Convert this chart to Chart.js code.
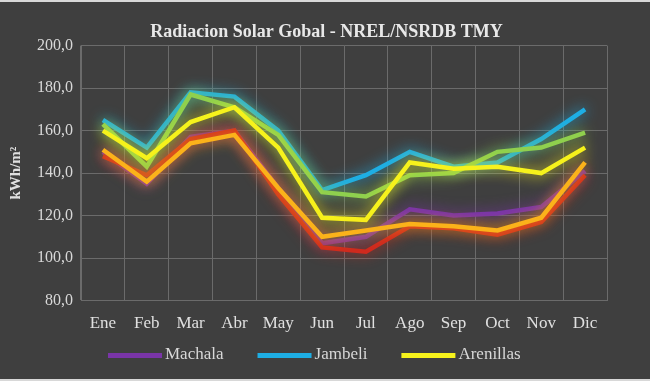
<!DOCTYPE html>
<html>
<head>
<meta charset="utf-8">
<script src="https://cdn.jsdelivr.net/npm/chart.js@4/dist/chart.umd.min.js"></script>
<style>
  html, body { margin: 0; padding: 0; background: #3f3f3f; }
  #wrap { position: relative; width: 650px; height: 381px; box-sizing: border-box;
          border-top: 2px solid #d8d8d8; border-bottom: 2px solid #d8d8d8; }
</style>
</head>
<body>
<div id="wrap"><canvas id="solarChart" width="650" height="377"></canvas></div>
<script>
const months = ['Ene', 'Feb', 'Mar', 'Abr', 'May', 'Jun', 'Jul', 'Ago', 'Sep', 'Oct', 'Nov', 'Dic'];

const machala   = [150, 135, 157, 160, 133, 107, 110, 123, 120, 121, 124, 141];
const jambeli   = [165, 152, 178, 176, 160, 132, 139, 150, 143, 145, 156, 170];
const arenillas = [160, 147, 164, 171, 152, 119, 118, 145, 142, 143, 140, 152];
const green     = [163, 143, 177, 171, 158, 131, 129, 139, 140, 150, 152, 159];
const orange    = [151, 136, 154, 158, 133, 110, 113, 116, 115, 113, 119, 145];
const red       = [148, 139, 156, 160, 130, 105, 103, 115, 114, 111, 117, 139];

const yTicks = [80, 100, 120, 140, 160, 180, 200];

const serif = "'Liberation Serif', 'Times New Roman', serif";

// soft glow round each line, like the original picture
const glow = {
    id: 'glow',
    beforeDatasetDraw(chart, args) {
        const ctx = chart.ctx;
        ctx.save();
        ctx.shadowColor = args.meta.dataset.options.borderColor;
        ctx.shadowBlur = 14;
    },
    afterDatasetDraw(chart) {
        chart.ctx.restore();
    }
};

// legend row: only the named series, wide gaps like the original
const wideLegend = {
    id: 'wideLegend',
    afterDraw(chart) {
        const ctx = chart.ctx;
        const y = chart.height - 24;
        let x = chart.chartArea.left + 27;
        ctx.save();
        ctx.font = '17px ' + serif;
        ctx.textBaseline = 'middle';
        chart.data.datasets.forEach(ds => {
            if (!ds.label) return;
            ctx.fillStyle = ds.borderColor;
            ctx.fillRect(x, y - 2, 54, 5);
            ctx.fillStyle = '#d8d8d8';
            ctx.fillText(ds.label, x + 57, y);
            x += 57 + ctx.measureText(ds.label).width + 34;
        });
        ctx.restore();
    }
};

const ctx = document.getElementById('solarChart');

function line(label, data, color, order) {
    return {
        label: label,
        data: data,
        borderColor: color,
        backgroundColor: color,
        borderWidth: 4.5,
        pointRadius: 0,
        tension: 0,
        order: order
    };
}

new Chart(ctx, {
    type: 'line',
    data: {
        labels: months,
        datasets: [
            line('Machala', machala, '#7a35a8', 5),
            line('Jambeli', jambeli, '#1eaee4', 4),
            line('Arenillas', arenillas, '#f6f21c', 1),
            line('', green, '#8fd04e', 2),
            line('', orange, '#fbb21a', 0),
            line('', red, '#cf2a1e', 3)
        ]
    },
    plugins: [glow, wideLegend],
    options: {
        responsive: false,
        animation: false,
        layout: { padding: { left: 3, right: 0, top: 0, bottom: 32 } },
        plugins: {
            title: {
                display: true,
                text: 'Radiacion Solar Gobal - NREL/NSRDB TMY',
                color: '#e8e8e8',
                font: { family: serif, size: 18, weight: 'bold' },
                padding: { top: 20, bottom: 2 }
            },
            legend: { display: false },
            tooltip: { enabled: false }
        },
        scales: {
            x: {
                offset: true,
                grid: { color: '#6b6b6b', offset: true, drawTicks: false },
                border: { color: '#6b6b6b' },
                ticks: { color: '#e0e0e0', font: { family: serif, size: 17 }, padding: 13 }
            },
            y: {
                min: 80,
                max: 200,
                afterBuildTicks: axis => { axis.ticks = yTicks.map(v => ({ value: v })); },
                grid: { color: '#6b6b6b', drawTicks: false },
                border: { color: '#6b6b6b' },
                ticks: {
                    color: '#d8d8d8',
                    font: { family: serif, size: 16 },
                    padding: 8,
                    callback: v => v.toFixed(1).replace('.', ',')
                },
                title: {
                    display: true,
                    text: 'kWh/m²',
                    color: '#e0e0e0',
                    font: { family: serif, size: 15, weight: 'bold' }
                }
            },
            // empty strip on the right, keeps the title centred on the page
            spacer: {
                type: 'linear',
                position: 'right',
                grid: { display: false },
                border: { display: false },
                ticks: { display: false },
                afterFit: axis => { axis.width = 43; }
            }
        }
    }
});
</script>
</body>
</html>
